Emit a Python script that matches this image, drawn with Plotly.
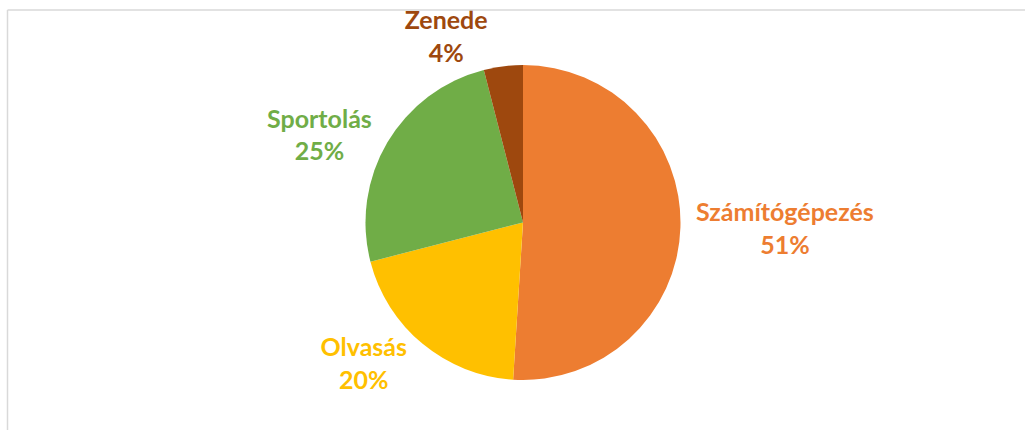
import plotly.graph_objects as go

labels = ["Számítógépezés", "Olvasás", "Sportolás", "Zenede"]
values = [51, 20, 25, 4]
colors = ["#ED7D31", "#FFC000", "#70AD47", "#9E480E"]

W, H = 1025, 430
cx, cy, r = 523, 222.5, 157.5

fig = go.Figure(go.Pie(
    labels=labels,
    values=values,
    sort=False,
    direction="clockwise",
    rotation=0,
    marker=dict(colors=colors, line=dict(width=0)),
    textposition="outside",
    texttemplate="<b>%{label}<br>%{percent:.0%}</b>",
    textfont=dict(family="Lato", size=25, color=colors),
    showlegend=False,
    hoverinfo="label+percent",
    domain=dict(x=[(cx - r) / W, (cx + r) / W],
                y=[1 - (cy + r) / H, 1 - (cy - r) / H]),
    automargin=False,
))

fig.update_layout(
    width=W, height=H,
    margin=dict(l=0, r=0, t=0, b=0),
    paper_bgcolor="white",
    plot_bgcolor="white",
    shapes=[
        dict(type="line", xref="paper", yref="paper",
             x0=7.5 / W, x1=1, y0=1 - 10 / H, y1=1 - 10 / H,
             line=dict(color="#D9D9D9", width=1.5)),
        dict(type="line", xref="paper", yref="paper",
             x0=7.5 / W, x1=7.5 / W, y0=0, y1=1 - 10 / H,
             line=dict(color="#D9D9D9", width=1.5)),
    ],
)

fig.write_html("out.html", config={"displayModeBar": False},
               post_script="document.body.style.margin='0';")
